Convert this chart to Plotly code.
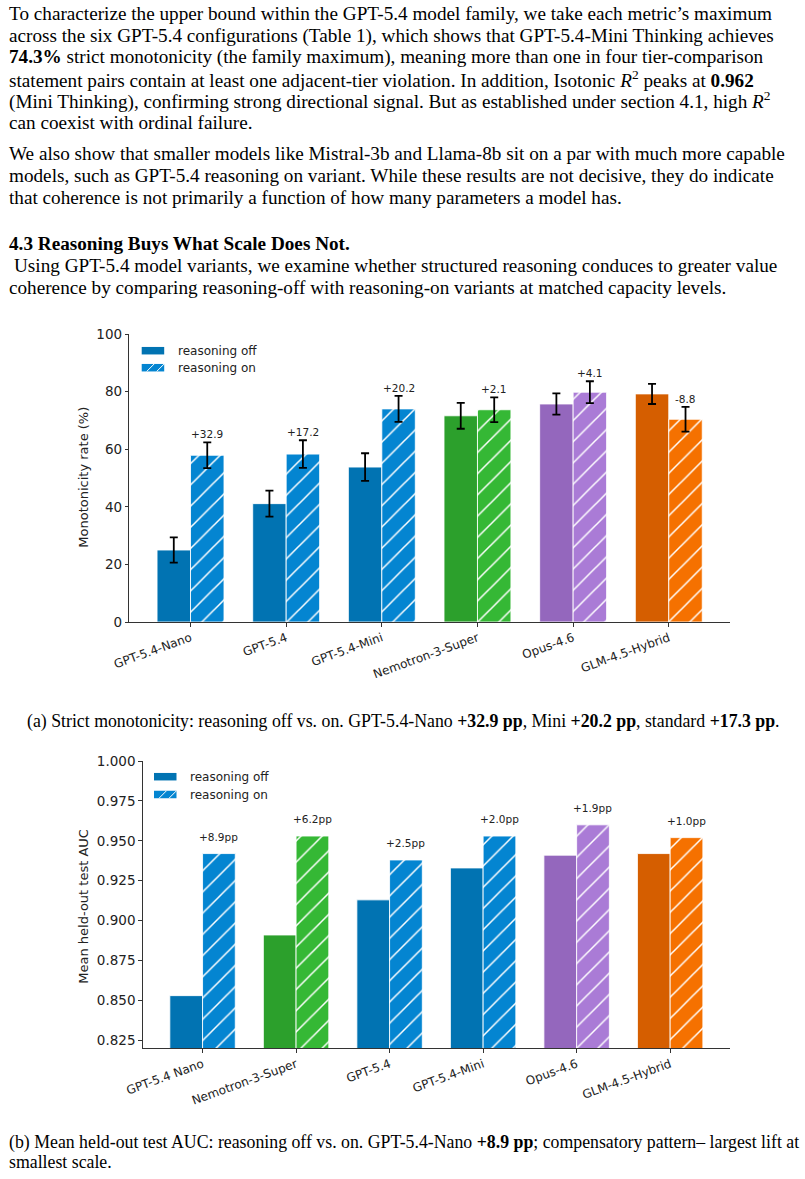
import plotly.graph_objects as go

W, H = 805, 1179

# ---------------- data ----------------
cats_a = ["GPT-5.4-Nano", "GPT-5.4", "GPT-5.4-Mini", "Nemotron-3-Super", "Opus-4.6", "GLM-4.5-Hybrid"]
off_a = [25.0, 41.1, 53.8, 71.6, 75.7, 79.2]
on_a = [57.9, 58.3, 74.0, 73.7, 79.8, 70.4]
off_err_a = [4.4, 4.5, 4.8, 4.5, 3.7, 3.5]
on_err_a = [4.5, 4.8, 4.5, 4.3, 3.8, 4.3]
fam_a = ["blue", "blue", "blue", "green", "purple", "orange"]

cats_b = ["GPT-5.4 Nano", "Nemotron-3-Super", "GPT-5.4", "GPT-5.4-Mini", "Opus-4.6", "GLM-4.5-Hybrid"]
off_b = [0.853, 0.891, 0.913, 0.933, 0.941, 0.942]
on_b = [0.942, 0.953, 0.938, 0.953, 0.960, 0.952]
fam_b = ["blue", "green", "blue", "blue", "purple", "orange"]

yticks_a = [0, 20, 40, 60, 80, 100]
yticks_b = [0.825, 0.850, 0.875, 0.900, 0.925, 0.950, 0.975, 1.000]

off_col = {"blue": "#0173b2", "green": "#2ca02c", "purple": "#9467bd", "orange": "#d55e00"}
on_col = {"blue": "#0485d1", "green": "#35b835", "purple": "#aa7bd6", "orange": "#f57100"}

BW = 0.35

def px(x):
    return x / W

def py(y):
    return 1 - y / H

fig = go.Figure()

def add_bars(off, on, fam, xa, ya, off_err=None, on_err=None):
    for i in range(len(off)):
        kw_off, kw_on = {}, {}
        if off_err is not None:
            kw_off["error_y"] = dict(type="data", array=[off_err[i]], visible=True, color="black", thickness=1.8, width=4)
            kw_on["error_y"] = dict(type="data", array=[on_err[i]], visible=True, color="black", thickness=1.8, width=4)
        c_off = off_col[fam[i]]
        c_on = on_col[fam[i]]
        fig.add_trace(go.Bar(
            x=[i - BW / 2], y=[off[i]], width=BW,
            marker=dict(color=c_off, line=dict(color="rgba(255,255,255,0.85)", width=1)),
            xaxis=xa, yaxis=ya, showlegend=False, **kw_off))
        fig.add_trace(go.Bar(
            x=[i + BW / 2], y=[on[i]], width=BW,
            marker=dict(color=c_on, line=dict(color="rgba(255,255,255,0.85)", width=1),
                        pattern=dict(shape="/", fgcolor="#ffffff", bgcolor=c_on, fgopacity=1,
                                     size=15, solidity=0.1, fillmode="replace")),
            xaxis=xa, yaxis=ya, showlegend=False, **kw_on))

add_bars(off_a, on_a, fam_a, "x", "y", off_err_a, on_err_a)
add_bars(off_b, on_b, fam_b, "x2", "y2")

ann = []
# delta labels (a)
for i, (o, n, e) in enumerate(zip(off_a, on_a, on_err_a)):
    ann.append(dict(x=i + BW / 2, y=n + e, xref="x", yref="y", text="{:+.1f}".format(n - o),
                    showarrow=False, yanchor="middle", yshift=8,
                    font=dict(family="DejaVu Sans", size=10.5, color="#222")))
# delta labels (b)
for i, (o, n) in enumerate(zip(off_b, on_b)):
    ann.append(dict(x=i + BW / 2, y=n, xref="x2", yref="y2", text="{:+.1f}pp".format((n - o) * 100),
                    showarrow=False, yanchor="middle", yshift=17,
                    font=dict(family="DejaVu Sans", size=10.5, color="#222")))

axis_common = dict(showline=True, linecolor="#333", linewidth=1, ticks="outside", ticklen=3.5,
                   tickwidth=0.8, tickcolor="#333", showgrid=False, zeroline=False, automargin=False,
                   tickfont=dict(family="DejaVu Sans", size=13.5, color="#222"))
xfont = dict(family="DejaVu Sans", size=12, color="#222")

fig.update_layout(
    width=W, height=H, margin=dict(l=0, r=0, t=0, b=0, autoexpand=False),
    paper_bgcolor="white", plot_bgcolor="white", barmode="overlay",
    xaxis=dict(domain=[px(129.3), px(730)], range=[-0.64, 5.64], anchor="y",
               tickvals=list(range(len(cats_a))), ticktext=cats_a, tickangle=-20,
               **{**axis_common, "tickfont": xfont}),
    yaxis=dict(domain=[py(622), py(334)], range=[0, 100], anchor="x",
               tickvals=yticks_a, **axis_common),
    xaxis2=dict(domain=[px(142.7), px(730)], range=[-0.64, 5.64], anchor="y2",
                tickvals=list(range(len(cats_b))), ticktext=cats_b, tickangle=-20,
                **{**axis_common, "tickfont": xfont}),
    yaxis2=dict(domain=[py(1048.3), py(761)], range=[0.82, 1.0], anchor="x2",
                tickvals=yticks_b, tickformat=".3f", **axis_common),
)

# y-axis titles
ann.append(dict(x=px(82.7), y=py(477), xref="paper", yref="paper", text="Monotonicity rate (%)",
                textangle=-90, showarrow=False, xanchor="center", yanchor="middle",
                font=dict(family="DejaVu Sans", size=13, color="#222")))
ann.append(dict(x=px(82.7), y=py(906), xref="paper", yref="paper", text="Mean held-out test AUC",
                textangle=-90, showarrow=False, xanchor="center", yanchor="middle",
                font=dict(family="DejaVu Sans", size=13, color="#222")))

# legends (manual)
shapes = []
def legend(x0, yc_off, yc_on, xt):
    w, h = 22.5, 7.5
    shapes.append(dict(type="rect", xref="paper", yref="paper", x0=px(x0), x1=px(x0 + w),
                       y0=py(yc_off + h / 2), y1=py(yc_off - h / 2), fillcolor=off_col["blue"], line=dict(width=0)))
    shapes.append(dict(type="rect", xref="paper", yref="paper", x0=px(x0), x1=px(x0 + w),
                       y0=py(yc_on + h / 2), y1=py(yc_on - h / 2), fillcolor=on_col["blue"], line=dict(width=0)))
    for a in (5, 15):
        shapes.append(dict(type="line", xref="paper", yref="paper", x0=px(x0 + a), x1=px(x0 + a + h),
                           y0=py(yc_on + h / 2), y1=py(yc_on - h / 2), line=dict(color="white", width=1)))
    for yc, t in ((yc_off, "reasoning off"), (yc_on, "reasoning on")):
        ann.append(dict(x=px(xt), y=py(yc), xref="paper", yref="paper", text=t, showarrow=False,
                        xanchor="left", yanchor="middle", font=dict(family="DejaVu Sans", size=12, color="#222")))

legend(141.7, 350.7, 367.7, 175.7)
legend(154.0, 776.7, 794.5, 188.0)

# body text
SERIF = "Liberation Serif"
body = [
    (14, 7, "To characterize the upper bound within the GPT-5.4 model family, we take each metric’s maximum"),
    (35.7, 7, "across the six GPT-5.4 configurations (Table 1), which shows that GPT-5.4-Mini Thinking achieves"),
    (57.4, 7, "<b>74.3%</b> strict monotonicity (the family maximum), meaning more than one in four tier-comparison"),
    (79.1, 7, "statement pairs contain at least one adjacent-tier violation. In addition, Isotonic <i>R</i><sup>2</sup> peaks at <b>0.962</b>"),
    (100.8, 7, "(Mini Thinking), confirming strong directional signal. But as established under section 4.1, high <i>R</i><sup>2</sup>"),
    (122.5, 7, "can coexist with ordinal failure."),
    (154, 7, "We also show that smaller models like Mistral-3b and Llama-8b sit on a par with much more capable"),
    (175.7, 7, "models, such as GPT-5.4 reasoning on variant. While these results are not decisive, they do indicate"),
    (197.4, 7, "that coherence is not primarily a function of how many parameters a model has."),
    (244, 7, "<b>4.3 Reasoning Buys What Scale Does Not.</b>"),
    (265.7, 12, "Using GPT-5.4 model variants, we examine whether structured reasoning conduces to greater value"),
    (287.4, 7, "coherence by comparing reasoning-off with reasoning-on variants at matched capacity levels."),
]
for yc, x0, t in body:
    ann.append(dict(x=px(x0), y=py(yc), xref="paper", yref="paper", text=t, showarrow=False,
                    xanchor="left", yanchor="middle", font=dict(family=SERIF, size=19.2, color="black")))

captions = [
    (1142, 7, "left", "(b) Mean held-out test AUC: reasoning off vs. on. GPT-5.4-Nano <b>+8.9 pp</b>; compensatory pattern– largest lift at"),
    (1162, 7, "left", "smallest scale."),
    (721, 403.5, "center", "(a) Strict monotonicity: reasoning off vs. on. GPT-5.4-Nano <b>+32.9 pp</b>, Mini <b>+20.2 pp</b>, standard <b>+17.3 pp</b>."),
]
for yc, x0, anc, t in captions:
    ann.append(dict(x=px(x0), y=py(yc), xref="paper", yref="paper", text=t, showarrow=False,
                    xanchor=anc, yanchor="middle", font=dict(family=SERIF, size=17.8, color="black")))

fig.update_layout(annotations=ann, shapes=shapes)
fig.write_html("out.html")
